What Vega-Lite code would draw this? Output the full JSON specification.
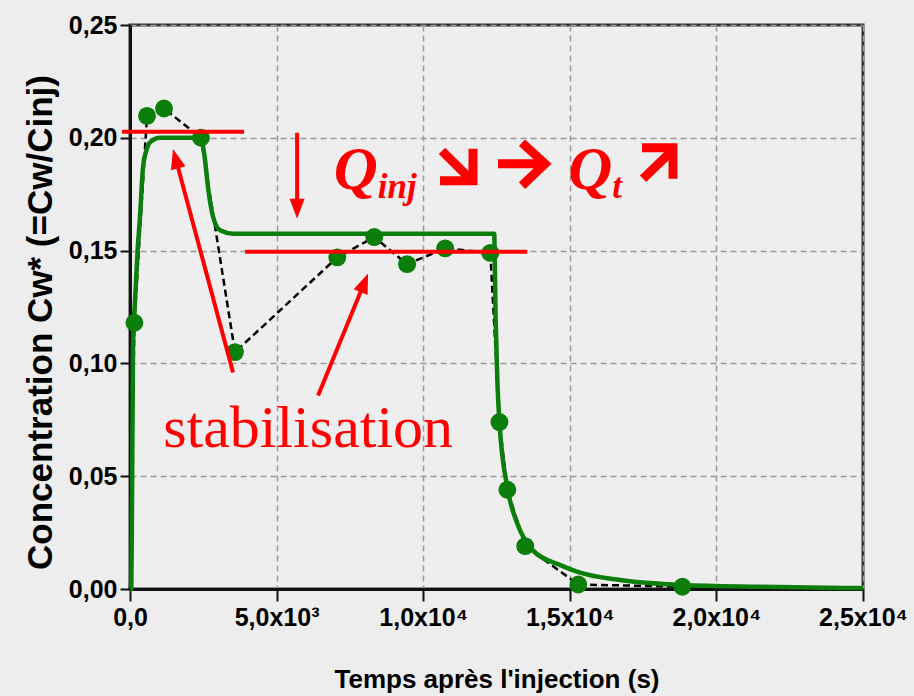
{
  "$schema": "https://vega.github.io/schema/vega-lite/v6.json",
  "width": 733,
  "height": 564,
  "autosize": {"type": "none"},
  "padding": {"left": 130, "top": 25, "right": 51, "bottom": 107},
  "background": "#ededed",
  "config": {
    "view": {"stroke": "#333333", "strokeWidth": 3, "fill": "#eeeeee"},
    "axis": {
      "labelFont": "Liberation Sans",
      "labelFontWeight": "bold",
      "labelFontSize": 25,
      "labelColor": "#000000",
      "titleFont": "Liberation Sans",
      "titleFontWeight": "bold",
      "titleColor": "#000000",
      "domainColor": "#111111",
      "domainWidth": 3,
      "tickColor": "#111111",
      "tickWidth": 2,
      "gridColor": "#9a9a9a",
      "gridDash": [6, 4],
      "gridWidth": 1.5
    }
  },
  "datasets": {
    "fit": [
      {"t": 0, "c": 0}, {"t": 40, "c": 0}, {"t": 70, "c": 0.04}, {"t": 102, "c": 0.107},
      {"t": 171, "c": 0.128}, {"t": 260, "c": 0.15}, {"t": 341, "c": 0.165}, {"t": 444, "c": 0.187},
      {"t": 550, "c": 0.194}, {"t": 683, "c": 0.198}, {"t": 1024, "c": 0.2}, {"t": 2389, "c": 0.2},
      {"t": 2480, "c": 0.197}, {"t": 2560, "c": 0.19}, {"t": 2662, "c": 0.178}, {"t": 2833, "c": 0.165},
      {"t": 3072, "c": 0.159}, {"t": 3515, "c": 0.1575}, {"t": 12420, "c": 0.1575}, {"t": 12470, "c": 0.12},
      {"t": 12530, "c": 0.092}, {"t": 12600, "c": 0.074}, {"t": 12870, "c": 0.045}, {"t": 13210, "c": 0.029},
      {"t": 13750, "c": 0.017}, {"t": 14680, "c": 0.0106}, {"t": 15290, "c": 0.0075}, {"t": 16720, "c": 0.004},
      {"t": 18840, "c": 0.0018}, {"t": 21500, "c": 0.001}, {"t": 25000, "c": 0.0004}
    ],
    "obs": [
      {"t": 150, "c": 0.118}, {"t": 580, "c": 0.2097}, {"t": 1160, "c": 0.213}, {"t": 2420, "c": 0.2},
      {"t": 3580, "c": 0.105}, {"t": 7070, "c": 0.147}, {"t": 8330, "c": 0.156}, {"t": 9450, "c": 0.144},
      {"t": 10750, "c": 0.151}, {"t": 12290, "c": 0.149}, {"t": 12600, "c": 0.074}, {"t": 12870, "c": 0.044},
      {"t": 13480, "c": 0.019}, {"t": 15290, "c": 0.002}, {"t": 18840, "c": 0.001}
    ],
    "dash": [
      {"t": 0, "c": 0}, {"t": 150, "c": 0.118}, {"t": 580, "c": 0.2097}, {"t": 1160, "c": 0.213}, {"t": 2420, "c": 0.2},
      {"t": 3580, "c": 0.105}, {"t": 7070, "c": 0.147}, {"t": 8330, "c": 0.156}, {"t": 9450, "c": 0.144},
      {"t": 10750, "c": 0.151}, {"t": 12290, "c": 0.149}, {"t": 12600, "c": 0.074}, {"t": 12870, "c": 0.044},
      {"t": 13480, "c": 0.019}, {"t": 15290, "c": 0.002}, {"t": 18840, "c": 0.001}, {"t": 25000, "c": 0.0005}
    ],
    "red": [
      {"x1": -270, "y1": 0.2027, "x2": 3890, "y2": 0.2027},
      {"x1": 3925, "y1": 0.1495, "x2": 13550, "y2": 0.1495},
      {"x1": 5700, "y1": 0.2022, "x2": 5700, "y2": 0.1686},
      {"x1": 3515, "y1": 0.096, "x2": 1556, "y2": 0.1908},
      {"x1": 6416, "y1": 0.0858, "x2": 7993, "y2": 0.1357}
    ],
    "arrowShafts": [
      {"x1": 10641, "y1": 0.1942, "x2": 11562, "y2": 0.1823},
      {"x1": 12551, "y1": 0.1885, "x2": 13984, "y2": 0.1885},
      {"x1": 17497, "y1": 0.1819, "x2": 18417, "y2": 0.1934}
    ],
    "arrowHeads": [
      {"id": "down", "k": 1, "x": 10573, "y": 0.1810},
      {"id": "down", "k": 2, "x": 11698, "y": 0.1810},
      {"id": "down", "k": 3, "x": 11698, "y": 0.1951},
      {"id": "right", "k": 1, "x": 13370, "y": 0.1978},
      {"id": "right", "k": 2, "x": 14154, "y": 0.1885},
      {"id": "right", "k": 3, "x": 13370, "y": 0.1788},
      {"id": "up", "k": 1, "x": 17462, "y": 0.1956},
      {"id": "up", "k": 2, "x": 18520, "y": 0.1956},
      {"id": "up", "k": 3, "x": 18520, "y": 0.1819}
    ]
  },
  "layer": [
    {
      "data": {"name": "dash"},
      "mark": {"type": "line", "color": "#000000", "strokeWidth": 2.5, "strokeDash": [7, 4]},
      "encoding": {
        "x": {"field": "t", "type": "quantitative",
          "scale": {"domain": [0, 25000], "nice": false, "zero": false},
          "axis": {
            "values": [0, 5000, 10000, 15000, 20000, 25000],
            "labelExpr": "datum.value == 0 ? '0,0' : datum.value == 5000 ? '5,0x10³' : datum.value == 10000 ? '1,0x10⁴' : datum.value == 15000 ? '1,5x10⁴' : datum.value == 20000 ? '2,0x10⁴' : '2,5x10⁴'",
            "tickSize": 12, "labelPadding": 4, "labelFlush": false, "labelOverlap": false,
            "title": "Temps après l'injection (s)", "titleFontSize": 26, "titlePadding": 36
          }},
        "y": {"field": "c", "type": "quantitative",
          "scale": {"domain": [0, 0.25], "nice": false},
          "axis": {
            "values": [0, 0.05, 0.1, 0.15, 0.2, 0.25],
            "labelExpr": "replace(format(datum.value, '.2f'), '.', ',')",
            "tickSize": 10, "labelPadding": 3, "labelFlush": false, "labelOverlap": false,
            "title": "Concentration Cw* (=Cw/Cinj)", "titleFontSize": 35, "titlePadding": 10, "titleY": 297
          }}
      }
    },
    {
      "data": {"name": "fit"},
      "mark": {"type": "line", "color": "#0b7e0b", "strokeWidth": 4.5, "interpolate": "monotone"},
      "encoding": {
        "x": {"field": "t", "type": "quantitative"},
        "y": {"field": "c", "type": "quantitative"}
      }
    },
    {
      "data": {"name": "obs"},
      "mark": {"type": "point", "shape": "circle", "filled": true, "color": "#0b7e0b", "size": 320, "opacity": 1},
      "encoding": {
        "x": {"field": "t", "type": "quantitative"},
        "y": {"field": "c", "type": "quantitative"}
      }
    },
    {
      "data": {"name": "red"},
      "mark": {"type": "rule", "color": "#ff0000", "strokeWidth": 4},
      "encoding": {
        "x": {"field": "x1", "type": "quantitative"},
        "y": {"field": "y1", "type": "quantitative"},
        "x2": {"field": "x2"},
        "y2": {"field": "y2"}
      }
    },
    {
      "data": {"values": [{"x": 5700, "y": 0.1686}]},
      "mark": {"type": "point", "shape": "M0,-1L-0.75,1L0.75,1Z", "filled": true, "color": "#ff0000", "size": 400, "opacity": 1, "angle": 180},
      "encoding": {"x": {"field": "x", "type": "quantitative"}, "y": {"field": "y", "type": "quantitative"}}
    },
    {
      "data": {"values": [{"x": 1556, "y": 0.1908}]},
      "mark": {"type": "point", "shape": "M0,-1L-0.75,1L0.75,1Z", "filled": true, "color": "#ff0000", "size": 400, "opacity": 1, "angle": 345},
      "encoding": {"x": {"field": "x", "type": "quantitative"}, "y": {"field": "y", "type": "quantitative"}}
    },
    {
      "data": {"values": [{"x": 7993, "y": 0.1357}]},
      "mark": {"type": "point", "shape": "M0,-1L-0.75,1L0.75,1Z", "filled": true, "color": "#ff0000", "size": 400, "opacity": 1, "angle": 22},
      "encoding": {"x": {"field": "x", "type": "quantitative"}, "y": {"field": "y", "type": "quantitative"}}
    },
    {
      "data": {"name": "arrowShafts"},
      "mark": {"type": "rule", "color": "#ff0000", "strokeWidth": 9, "strokeCap": "butt"},
      "encoding": {
        "x": {"field": "x1", "type": "quantitative"},
        "y": {"field": "y1", "type": "quantitative"},
        "x2": {"field": "x2"},
        "y2": {"field": "y2"}
      }
    },
    {
      "data": {"name": "arrowHeads"},
      "mark": {"type": "line", "color": "#ff0000", "strokeWidth": 9, "strokeJoin": "miter", "strokeCap": "butt"},
      "encoding": {
        "x": {"field": "x", "type": "quantitative"},
        "y": {"field": "y", "type": "quantitative"},
        "detail": {"field": "id"},
        "order": {"field": "k"}
      }
    },
    {
      "data": {"values": [{"label": "stabilisation", "x": 6075, "y": 0.0628}]},
      "mark": {"type": "text", "font": "Liberation Serif", "fontSize": 60, "color": "#ff0000", "align": "center", "baseline": "alphabetic"},
      "encoding": {"x": {"field": "x", "type": "quantitative"}, "y": {"field": "y", "type": "quantitative"}, "text": {"field": "label"}}
    },
    {
      "data": {"values": [{"label": "Q", "x": 6950, "y": 0.1774}, {"label": "Q", "x": 14950, "y": 0.1774}]},
      "mark": {"type": "text", "font": "Liberation Serif", "fontSize": 61, "fontStyle": "italic", "fontWeight": "bold", "color": "#ff0000", "align": "left", "baseline": "alphabetic"},
      "encoding": {"x": {"field": "x", "type": "quantitative"}, "y": {"field": "y", "type": "quantitative"}, "text": {"field": "label"}}
    },
    {
      "data": {"values": [{"label": "inj", "x": 8450, "y": 0.1735}, {"label": "t", "x": 16450, "y": 0.1735}]},
      "mark": {"type": "text", "font": "Liberation Serif", "fontSize": 35, "fontStyle": "italic", "fontWeight": "bold", "color": "#ff0000", "align": "left", "baseline": "alphabetic"},
      "encoding": {"x": {"field": "x", "type": "quantitative"}, "y": {"field": "y", "type": "quantitative"}, "text": {"field": "label"}}
    }
  ]
}
